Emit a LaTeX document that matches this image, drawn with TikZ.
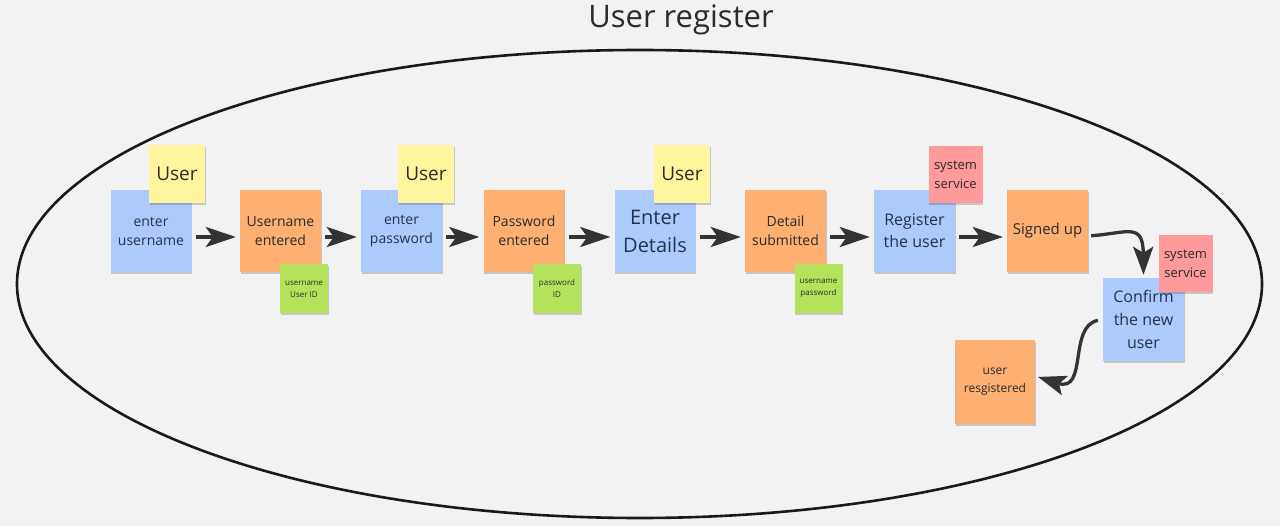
\documentclass[tikz,border=0pt]{standalone}
\usepackage{fontspec}
\setmainfont{Open Sans}
\usetikzlibrary{arrows.meta,shadows}
\definecolor{bg}{HTML}{F2F2F2}
\definecolor{nblue}{HTML}{ADCAFD}
\definecolor{norange}{HTML}{FDB071}
\definecolor{nyellow}{HTML}{FFF59E}
\definecolor{ngreen}{HTML}{B4E25B}
\definecolor{nred}{HTML}{FE9A9A}
\definecolor{ink}{HTML}{2B2B2B}
\definecolor{blueink}{HTML}{24324F}
\definecolor{arr}{HTML}{333333}
\tikzset{
  note/.style={inner sep=0pt, align=center, text=ink,
    drop shadow={shadow xshift=0.8pt, shadow yshift=-1.6pt, opacity=0.18, fill=black}},
  bluenote/.style={note, fill=nblue, text=blueink, minimum width=81pt, minimum height=82pt},
  orangenote/.style={note, fill=norange, minimum width=81pt, minimum height=82pt},
  yellownote/.style={note, fill=nyellow, minimum width=56pt, minimum height=58pt},
  greennote/.style={note, fill=ngreen, minimum width=48pt, minimum height=49pt,
    font=\fontsize{8}{12}\selectfont},
  rednote/.style={note, fill=nred, minimum width=54pt, minimum height=57pt,
    font=\fontsize{13}{19}\selectfont},
  flow/.style={draw=arr, line width=3.6pt, -{Stealth[length=30pt,width=20pt,inset=7pt]},
    shorten <=4pt, shorten >=4pt},
  curvedflow/.style={draw=arr, line width=3.3pt, -{Stealth[length=28pt,width=20pt,inset=6pt]}},
}
\begin{document}
\begin{tikzpicture}[x=1pt,y=-1pt]
\fill[bg] (0,0) rectangle (1280,526);
\useasboundingbox (0,0) rectangle (1280,526);
\node[text=ink, font=\fontsize{31}{36}\selectfont] (title) at (681,20) {User register};
\draw[line width=2.6pt, draw=black!90] (639.5,284) ellipse [x radius=622.5pt, y radius=234pt];

% row of notes
\node[bluenote, font=\fontsize{14}{19}\selectfont] (n1) at (151,231) {enter\\username};
\node[yellownote, font=\fontsize{19}{24}\selectfont] (u1) at (177,174) {User};
\node[orangenote, font=\fontsize{14}{19}\selectfont] (n2) at (280.5,231) {Username\\entered};
\node[greennote] (g1) at (304,289) {username\\User ID};
\node[bluenote, font=\fontsize{14}{19}\selectfont] (n3) at (401.5,231) {enter\\password};
\node[yellownote, font=\fontsize{19}{24}\selectfont] (u2) at (426,174) {User};
\node[orangenote, font=\fontsize{14}{19}\selectfont] (n4) at (524,231) {Password\\entered};
\node[greennote] (g2) at (557,288.5) {password\\ID};
\node[bluenote, font=\fontsize{20}{28}\selectfont] (n5) at (655,231) {Enter\\Details};
\node[yellownote, font=\fontsize{19}{24}\selectfont] (u3) at (682,174) {User};
\node[orangenote, font=\fontsize{14}{19}\selectfont] (n6) at (785.5,231) {Detail\\submitted};
\node[greennote] (g3) at (818.5,288.5) {username\\password};
\node[bluenote, font=\fontsize{16}{22}\selectfont] (n7) at (914.5,231) {Register\\the user};
\node[rednote] (r1) at (955.5,174.5) {system\\service};
\node[orangenote, font=\fontsize{15}{20}\selectfont] (n8) at (1047.5,231) {Signed up};
\node[bluenote, font=\fontsize{16}{23}\selectfont, minimum height=83pt] (n9) at (1143.5,319.5) {Confirm\\the new\\user};
\node[rednote] (r2) at (1185.5,264) {system\\service};
\node[orangenote, font=\fontsize{12}{18}\selectfont, minimum width=80pt, minimum height=84pt] (n10) at (995,382) {user\\resgistered};

% connectors
\draw[flow] ([yshift=-6pt]n1.east) -- ([yshift=-6pt]n2.west);
\draw[flow] ([yshift=-6pt]n2.east) -- ([yshift=-6pt]n3.west);
\draw[flow] ([yshift=-6pt]n3.east) -- ([yshift=-6pt]n4.west);
\draw[flow] ([yshift=-6pt]n4.east) -- ([yshift=-6pt]n5.west);
\draw[flow] ([yshift=-6pt]n5.east) -- ([yshift=-6pt]n6.west);
\draw[flow] ([yshift=-6pt]n6.east) -- ([yshift=-6pt]n7.west);
\draw[flow] ([yshift=-6pt]n7.east) -- ([yshift=-6pt]n8.west);
\draw[curvedflow, shorten <=3pt, shorten >=3pt]
  ([yshift=-5pt]n8.east) .. controls (1128,233) and (1143,222) .. (n9.north);
\draw[curvedflow, shorten <=5pt, shorten >=3pt]
  (n9.west) .. controls (1068,326) and (1088,393) .. ([yshift=6pt]n10.east);
\end{tikzpicture}
\end{document}
